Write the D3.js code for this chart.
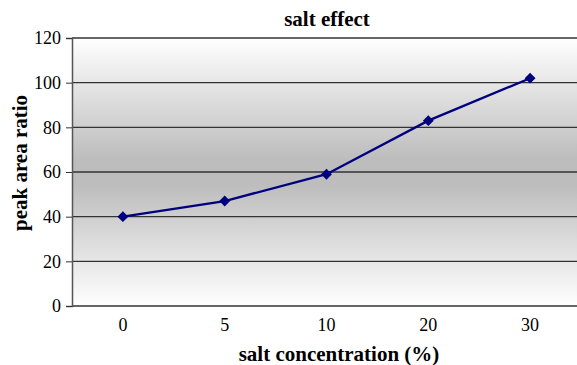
<!DOCTYPE html>
<html>
<head>
<meta charset="utf-8">
<script src="https://cdn.jsdelivr.net/npm/d3@7"></script>
<style>
  body { margin: 0; background: #fff; }
</style>
</head>
<body>
<div class="canvas"></div>
<script>
// data
const categories = ['0', '5', '10', '20', '30'];
const values = [40, 47, 59, 83, 102];
const yTicks = [0, 20, 40, 60, 80, 100, 120];

const FONT = 'Liberation Serif';
const dims = { width: 577, height: 365 };
const margin = { top: 38, right: -4, bottom: 59, left: 72 };
const inner = {
  width: dims.width - margin.left - margin.right,
  height: dims.height - margin.top - margin.bottom
};

const svg = d3.select('.canvas')
  .append('svg')
  .attr('width', dims.width)
  .attr('height', dims.height)
  .attr('font-family', FONT);

// background gradient: white -> grey -> white
const grad = svg.append('defs').append('linearGradient')
  .attr('id', 'bg')
  .attr('x1', 0).attr('y1', 0).attr('x2', 0).attr('y2', 1);
grad.append('stop').attr('offset', '0%').attr('stop-color', '#ffffff');
grad.append('stop').attr('offset', '45%').attr('stop-color', '#bdbdbd');
grad.append('stop').attr('offset', '55%').attr('stop-color', '#bdbdbd');
grad.append('stop').attr('offset', '100%').attr('stop-color', '#ffffff');

const graph = svg.append('g')
  .attr('transform', `translate(${margin.left}, ${margin.top})`);

const x = d3.scaleBand()
  .domain(categories)
  .range([0, inner.width]);

const y = d3.scaleLinear()
  .domain([0, 120])
  .range([inner.height, 0]);

graph.append('rect')
  .attr('width', inner.width)
  .attr('height', inner.height)
  .attr('fill', 'url(#bg)');

// gridlines
graph.selectAll('line.grid')
  .data(yTicks)
  .enter()
  .append('line')
  .attr('class', 'grid')
  .attr('x1', 0)
  .attr('x2', inner.width)
  .attr('y1', d => y(d))
  .attr('y2', d => y(d))
  .attr('stroke', '#333')
  .attr('stroke-width', 1.3);

// y axis
const yAxis = d3.axisLeft(y).tickValues(yTicks).tickSize(6).tickPadding(5);
const yG = graph.append('g').call(yAxis).attr('font-family', FONT);
yG.select('.domain').attr('stroke', '#555').attr('stroke-width', 1.5);
yG.selectAll('.tick line').attr('stroke', '#333');
yG.selectAll('text')
  .attr('font-size', 18)
  .attr('fill', '#000')
  .style('font-family', FONT);

// x axis
const xAxis = d3.axisBottom(x).tickSize(0).tickPadding(12);
const xG = graph.append('g')
  .attr('transform', `translate(0, ${inner.height})`)
  .call(xAxis)
  .attr('font-family', FONT);
xG.select('.domain').remove();
xG.selectAll('text')
  .attr('font-size', 18)
  .attr('fill', '#000')
  .style('font-family', FONT);

// line
const cx = d => x(d) + x.bandwidth() / 2;
const line = d3.line()
  .x((d, i) => cx(categories[i]))
  .y(d => y(d));

graph.append('path')
  .datum(values)
  .attr('d', line)
  .attr('fill', 'none')
  .attr('stroke', '#00007f')
  .attr('stroke-width', 2.3);

graph.selectAll('path.marker')
  .data(values)
  .enter()
  .append('path')
  .attr('class', 'marker')
  .attr('d', d3.symbol().type(d3.symbolDiamond2).size(75))
  .attr('transform', (d, i) => `translate(${cx(categories[i])}, ${y(d)})`)
  .attr('fill', '#00007f');

// titles
const label = (txt) => svg.append('text')
  .attr('text-anchor', 'middle')
  .attr('font-size', 21)
  .attr('font-weight', 'bold')
  .style('font-family', FONT)
  .text(txt);

label('salt effect')
  .attr('x', 327)
  .attr('y', 26);

label('peak area ratio')
  .attr('transform', 'translate(27, 163) rotate(-90)');

label('salt concentration (%)')
  .attr('x', 339)
  .attr('y', 361);
</script>
</body>
</html>
